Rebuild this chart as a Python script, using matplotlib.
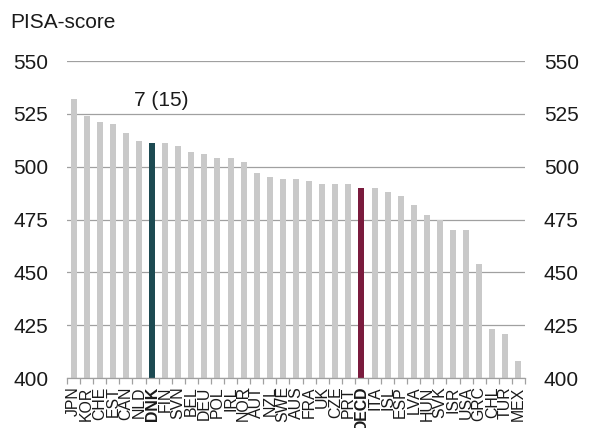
import matplotlib
matplotlib.use("Agg")
import matplotlib.pyplot as plt

countries = ["JPN", "KOR", "CHE", "EST", "CAN", "NLD", "DNK", "FIN", "SVN", "BEL",
             "DEU", "POL", "IRL", "NOR", "AUT", "NZL", "SWE", "AUS", "FRA", "UK",
             "CZE", "PRT", "OECD", "ITA", "ISL", "ESP", "LVA", "HUN", "SVK", "ISR",
             "USA", "GRC", "CHL", "TUR", "MEX"]
scores = [532, 524, 521, 520, 516, 512, 511, 511, 510, 507,
          506, 504, 504, 502, 497, 495, 494, 494, 493, 492,
          492, 492, 490, 490, 488, 486, 482, 477, 475, 470,
          470, 454, 423, 421, 408]
yticks = [400, 425, 450, 475, 500, 525, 550]
annotation = "7 (15)"
ylabel = "PISA-score"

plt.rcParams['font.family'] = ['Liberation Sans', 'DejaVu Sans']

fig = plt.figure(figsize=(5.9, 4.28), dpi=100)
ax = fig.add_axes([67/590, 1 - 378/428, (525 - 67)/590, (378 - 61)/428])

colors = []
for c in countries:
    if c == "DNK":
        colors.append("#1d4a52")
    elif c == "OECD":
        colors.append("#7a1b3d")
    else:
        colors.append("#c9c9c9")

x = list(range(len(countries)))
ax.bar(x, [s - 400 for s in scores], bottom=400, width=0.46, color=colors, zorder=3)

ax.set_ylim(400, 550)
ax.set_xlim(-0.5, len(countries) - 0.5)
ax.set_yticks(yticks)
ax.yaxis.grid(True, color="#a0a0a0", linewidth=0.9, zorder=0)
ax.set_axisbelow(True)

for s in ["top", "left", "right"]:
    ax.spines[s].set_visible(False)
ax.spines["bottom"].set_color("#a0a0a0")
ax.spines["bottom"].set_linewidth(0.9)
ax.spines["bottom"].set_zorder(4)

ax.tick_params(axis="y", which="both", length=0, labelsize=15, labelcolor="#1a1a1a",
               pad=13.5, labelleft=True, labelright=True)
ax.set_yticklabels([str(v) for v in yticks])

# category labels at centers, tick marks at boundaries
ax.set_xticks(x)
ax.set_xticklabels(countries, rotation=90, fontsize=11.4, color="#1a1a1a")
ax.tick_params(axis="x", which="major", length=0, pad=6)
for lbl in ax.get_xticklabels():
    if lbl.get_text() in ("DNK", "OECD"):
        lbl.set_fontweight("bold")
ax.set_xticks([i - 0.5 for i in range(len(countries) + 1)], minor=True)
ax.tick_params(axis="x", which="minor", length=4, width=0.9, color="#a0a0a0")

ax.text(6.7, 531.5, annotation, ha="center", va="center", fontsize=15, color="#1a1a1a")
fig.text(10/590, 1 - 22/428, ylabel, ha="left", va="center", fontsize=15, color="#1a1a1a")

fig.savefig("out.png", dpi=100)
